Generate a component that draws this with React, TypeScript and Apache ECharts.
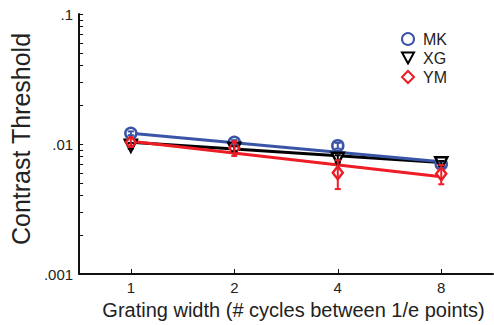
import React, { useEffect, useRef } from "react";
import * as echarts from "echarts";

const widths = [1, 2, 4, 8];
const mk = [0.0121, 0.0103, 0.0097, 0.007];
const xg = [0.0097, 0.0092, 0.0077, 0.0071];
const ym = [0.0103, 0.0093, 0.006, 0.0059];
const mkErr = [0.0004, 0.0004, 0.0005, 0.0003];
const xgErr = [0.0005, 0.0004, 0.0005, 0.0003];
const ymErr = [0.0008, 0.0012, 0.0015, 0.001];
const fitX = [1, 8];
const mkFit = [0.0121, 0.0073];
const xgFit = [0.0103, 0.0072];
const ymFit = [0.0105, 0.0056];
const xTicks = [1, 2, 4, 8];
const yTicks = [
  0.001, 0.002, 0.003, 0.004, 0.005, 0.006, 0.007, 0.008, 0.009,
  0.01, 0.02, 0.03, 0.04, 0.05, 0.06, 0.07, 0.08, 0.09, 0.1,
];
const yLabelValues = [0.001, 0.01, 0.1];
const yLabelTexts = [".001", ".01", ".1"];

const BLUE = "#3a55a6";
const BLACK = "#000000";
const RED = "#ee1c25";
const FONT = "'Liberation Sans', Arial, Helvetica, sans-serif";
const DOWN_TRI = "path://M0,0L10,0L5,9Z";

function errSeries(name: string, vals: number[], errs: number[], color: string) {
  return {
    type: "custom",
    name: name + " err",
    z: 5,
    data: widths.map((w, i) => [w, vals[i] - errs[i], vals[i] + errs[i]]),
    renderItem: (params: any, api: any) => {
      const x = api.value(0);
      const pLo = api.coord([x, api.value(1)]);
      const pHi = api.coord([x, api.value(2)]);
      const c = 3;
      const st = { stroke: color, lineWidth: 2 };
      return {
        type: "group",
        children: [
          { type: "line", shape: { x1: pLo[0], y1: pLo[1], x2: pHi[0], y2: pHi[1] }, style: st },
          { type: "line", shape: { x1: pLo[0] - c, y1: pLo[1], x2: pLo[0] + c, y2: pLo[1] }, style: st },
          { type: "line", shape: { x1: pHi[0] - c, y1: pHi[1], x2: pHi[0] + c, y2: pHi[1] }, style: st },
        ],
      };
    },
  };
}

function fitSeries(name: string, vals: number[], color: string) {
  return {
    type: "line",
    name: name + " fit",
    data: fitX.map((x, i) => [x, vals[i]]),
    showSymbol: false,
    symbol: "none",
    lineStyle: { color, width: 3 },
    z: 2,
  };
}

function pointSeries(name: string, vals: number[], color: string, symbol: string, size: any) {
  return {
    type: "scatter",
    name,
    data: widths.map((w, i) => [w, vals[i]]),
    symbol,
    symbolSize: size,
    itemStyle: { color: "#ffffff", borderColor: color, borderWidth: 2.5, opacity: 1 },
    z: 4,
  };
}

export default function App() {
  const ref = useRef<HTMLDivElement>(null);
  useEffect(() => {
    if (!ref.current) return;
    const chart = echarts.init(ref.current, undefined, { renderer: "svg" });
    chart.setOption({
      animation: false,
      backgroundColor: "#ffffff",
      textStyle: { fontFamily: FONT },
      grid: { left: 65, right: 1, top: 14, bottom: 49, containLabel: false },
      legend: {
        data: ["MK", "XG", "YM"],
        orient: "vertical",
        left: 396,
        top: 26,
        itemWidth: 12,
        itemHeight: 12,
        itemGap: 3,
        textStyle: { fontSize: 16, color: "#222", fontFamily: FONT, lineHeight: 16, padding: [0, 0, 0, 4] },
      },
      xAxis: {
        type: "log",
        logBase: 2,
        min: Math.SQRT1_2,
        max: 8 * Math.SQRT2,
        name: "Grating width (# cycles between 1/e points)",
        nameLocation: "middle",
        nameGap: 26,
        nameTextStyle: { fontSize: 20, color: "#222", fontFamily: FONT, padding: [0, 0, 0, 15] },
        axisLine: { show: true, lineStyle: { color: "#111", width: 2 } },
        axisTick: { show: true, inside: true, length: 5, customValues: xTicks, lineStyle: { color: "#111", width: 1 } },
        axisLabel: { show: true, customValues: xTicks, fontSize: 15, color: "#222", margin: 6, fontFamily: FONT },
        splitLine: { show: false },
        minorTick: { show: false },
      },
      yAxis: {
        type: "log",
        logBase: 10,
        min: 0.001,
        max: 0.1,
        name: "Contrast Threshold",
        nameLocation: "middle",
        nameGap: 28,
        nameTextStyle: { fontSize: 25, color: "#222", fontFamily: FONT, padding: [0, 0, 0, 10] },
        axisLine: { show: true, lineStyle: { color: "#111", width: 2 } },
        axisTick: { show: true, inside: true, length: 4, customValues: yTicks, lineStyle: { color: "#111", width: 1 } },
        axisLabel: {
          show: true,
          customValues: yLabelValues,
          fontSize: 15,
          color: "#222",
          margin: 6,
          fontFamily: FONT,
          formatter: (v: number) => {
            const i = yLabelValues.findIndex((t) => Math.abs(t - v) / t < 1e-6);
            return i >= 0 ? yLabelTexts[i] : "";
          },
        },
        splitLine: { show: false },
        minorTick: { show: false },
      },
      series: [
        fitSeries("XG", xgFit, BLACK),
        fitSeries("MK", mkFit, BLUE),
        fitSeries("YM", ymFit, RED),
        pointSeries("MK", mk, BLUE, "circle", 11),
        pointSeries("XG", xg, BLACK, DOWN_TRI, 12),
        pointSeries("YM", ym, RED, "diamond", [10, 13]),
        errSeries("MK", mk, mkErr, BLUE),
        errSeries("XG", xg, xgErr, BLACK),
        errSeries("YM", ym, ymErr, RED),
      ],
    });
    return () => chart.dispose();
  }, []);
  return (
    <div
      ref={ref}
      style={{ position: "absolute", left: 0, top: 0, width: 494, height: 325 }}
    />
  );
}
